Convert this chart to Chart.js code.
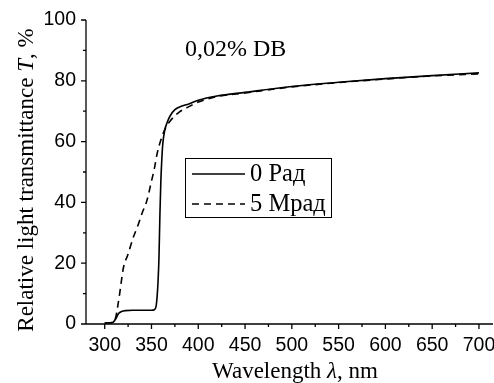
<!DOCTYPE html>
<html>
<head>
<meta charset="utf-8">
<script src="https://cdn.jsdelivr.net/npm/chart.js@4"></script>
<style>
  html, body { margin: 0; padding: 0; background: #fff; }
</style>
</head>
<body>
<canvas id="chart" width="494" height="383"></canvas>
<script>
// 0 Рад (solid)
const wl0 = [300, 305, 309, 312, 315, 318, 322, 330, 340, 350, 353, 355, 356, 357, 358, 359, 360, 361, 362, 364, 367, 370, 375, 380, 390, 400, 420, 450, 500, 550, 600, 650, 700];
const t0  = [0.3, 0.4, 0.6, 1.8, 3.5, 4.1, 4.4, 4.5, 4.5, 4.5, 4.7, 6, 9, 14, 22, 36, 47, 54, 59, 63.5, 66.5, 68.5, 70.5, 71.4, 72.4, 73.6, 75, 76.2, 78.1, 79.5, 80.7, 81.7, 82.6];

// 5 Мрад (dashed)
const wl5 = [300, 305, 310, 312, 314, 316, 318, 320, 325, 330, 335, 340, 345, 350, 353, 356, 360, 365, 370, 375, 380, 390, 400, 410, 420, 450, 500, 550, 600, 650, 700];
const t5  = [0.3, 0.4, 0.8, 2.5, 6, 10, 14.5, 18.5, 23, 28, 32, 36.5, 40.5, 47, 51, 56, 60.5, 64.5, 66.8, 68.5, 69.8, 71.5, 73, 74, 74.8, 76, 78, 79.4, 80.6, 81.6, 82.3];

const seriesLabels = ['0 Рад', '5 Мрад'];
const xMajor = [300, 350, 400, 450, 500, 550, 600, 650, 700];
const xMinor = [325, 375, 425, 475, 525, 575, 625, 675];
const yMajor = [0, 20, 40, 60, 80, 100];
const yMinor = [10, 30, 50, 70, 90];
const note = '0,02% DB';

const SERIF = "'Liberation Serif', 'Times New Roman', serif";
const SANS = "'Liberation Sans', Arial, sans-serif";

function toPoints(xs, ys) {
    return xs.map((x, i) => ({ x: x, y: ys[i] }));
}

// draws text pieces one after another, some of them italic
function drawRich(ctx, parts, size) {
    let total = 0;
    parts.forEach(p => {
        ctx.font = (p.italic ? 'italic ' : '') + size + 'px ' + SERIF;
        p.w = ctx.measureText(p.text).width;
        total += p.w;
    });
    let x = -total / 2;
    parts.forEach(p => {
        ctx.font = (p.italic ? 'italic ' : '') + size + 'px ' + SERIF;
        ctx.fillText(p.text, x, 0);
        x += p.w;
    });
}

const decor = {
    id: 'decor',
    afterDraw(chart) {
        const ctx = chart.ctx;
        const xs = chart.scales.x, ys = chart.scales.y;
        const area = chart.chartArea;
        ctx.save();
        ctx.strokeStyle = '#000';
        ctx.lineWidth = 1.3;

        // axes and tick marks
        ctx.beginPath();
        ctx.moveTo(area.left, area.top);
        ctx.lineTo(area.left, area.bottom);
        ctx.lineTo(area.right, area.bottom);
        xMajor.forEach(v => { const p = xs.getPixelForValue(v); ctx.moveTo(p, area.bottom); ctx.lineTo(p, area.bottom + 5); });
        xMinor.forEach(v => { const p = xs.getPixelForValue(v); ctx.moveTo(p, area.bottom); ctx.lineTo(p, area.bottom + 3); });
        yMajor.forEach(v => { const p = ys.getPixelForValue(v); ctx.moveTo(area.left, p); ctx.lineTo(area.left - 5, p); });
        yMinor.forEach(v => { const p = ys.getPixelForValue(v); ctx.moveTo(area.left, p); ctx.lineTo(area.left - 3, p); });
        ctx.stroke();

        ctx.fillStyle = '#000';
        ctx.textBaseline = 'alphabetic';

        // x title
        ctx.save();
        ctx.translate(295, 378);
        drawRich(ctx, [{ text: 'Wavelength ' }, { text: 'λ', italic: true }, { text: ', nm' }], 23);
        ctx.restore();

        // y title
        ctx.save();
        ctx.translate(33, 180);
        ctx.rotate(-Math.PI / 2);
        drawRich(ctx, [{ text: 'Relative light transmittance ' }, { text: 'T', italic: true }, { text: ', %' }], 23);
        ctx.restore();

        // annotation
        ctx.font = '24px ' + SERIF;
        ctx.textAlign = 'left';
        ctx.fillText(note, 185, 56);

        // legend
        ctx.lineWidth = 1;
        ctx.strokeRect(185.5, 158.5, 146, 59);
        ctx.textBaseline = 'middle';
        ctx.font = '24.5px ' + SERIF;
        const rows = [174, 204];
        chart.data.datasets.forEach((ds, i) => {
            ctx.beginPath();
            ctx.lineWidth = ds.borderWidth;
            ctx.setLineDash(ds.borderDash || []);
            ctx.moveTo(192, rows[i]);
            ctx.lineTo(245, rows[i]);
            ctx.stroke();
            ctx.setLineDash([]);
            ctx.fillText(ds.label, 250, rows[i] + 1);
        });
        ctx.restore();
    }
};

new Chart(document.getElementById('chart'), {
    type: 'line',
    data: {
        datasets: [
            {
                label: seriesLabels[0],
                data: toPoints(wl0, t0),
                borderColor: '#000',
                borderWidth: 1.6,
                pointRadius: 0,
                cubicInterpolationMode: 'monotone',
                fill: false
            },
            {
                label: seriesLabels[1],
                data: toPoints(wl5, t5),
                borderColor: '#000',
                borderWidth: 1.6,
                borderDash: [7, 5],
                pointRadius: 0,
                cubicInterpolationMode: 'monotone',
                fill: false
            }
        ]
    },
    options: {
        responsive: false,
        devicePixelRatio: 1,
        animation: false,
        layout: { padding: { left: 0, top: 20, right: 1, bottom: 0 } },
        plugins: {
            legend: { display: false },
            tooltip: { enabled: false }
        },
        scales: {
            x: {
                type: 'linear',
                min: 280,
                max: 715,
                grid: { display: false },
                border: { display: false },
                afterBuildTicks: s => { s.ticks = xMajor.map(v => ({ value: v })); },
                afterFit: s => { s.height = 59; s.paddingLeft = 0; s.paddingRight = 0; },
                ticks: {
                    color: '#000',
                    padding: 2,
                    maxRotation: 0,
                    font: { family: SANS, size: 19.5 }
                }
            },
            y: {
                min: 0,
                max: 100,
                grid: { display: false },
                border: { display: false },
                afterBuildTicks: s => { s.ticks = yMajor.map(v => ({ value: v })); },
                afterFit: s => { s.width = 86; },
                ticks: {
                    color: '#000',
                    padding: 2,
                    font: { family: SANS, size: 19.5 }
                }
            }
        }
    },
    plugins: [decor]
});
</script>
</body>
</html>
